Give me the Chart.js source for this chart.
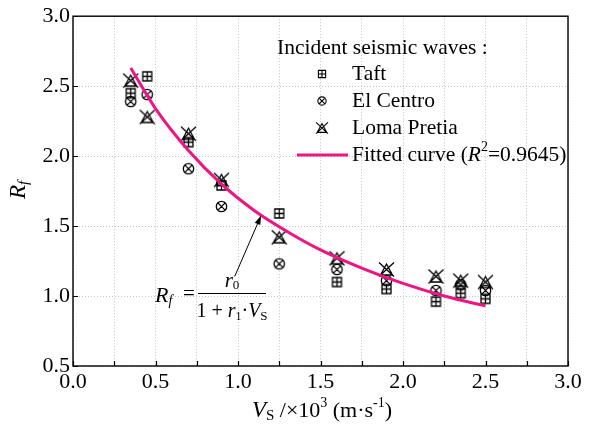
<!DOCTYPE html>
<html>
<head>
<meta charset="utf-8">
<script src="https://cdn.jsdelivr.net/npm/chart.js@4.4.1/dist/chart.umd.min.js"></script>
<style>
  body { margin: 0; background: #fff; }
  #wrap { width: 611px; height: 429px; }
</style>
</head>
<body>
<div id="wrap"><canvas id="chart"></canvas></div>
<script>
// data
const vs = [0.35, 0.45, 0.7, 0.9, 1.25, 1.6, 1.9, 2.2, 2.35, 2.5];
const taft = [2.45, 2.57, 2.10, 1.79, 1.59, 1.10, 1.05, 0.96, 1.02, 0.98];
const elCentro = [2.39, 2.44, 1.91, 1.64, 1.23, 1.19, 1.11, 1.04, 1.08, 1.04];
const lomaPretia = [2.54, 2.28, 2.16, 1.83, 1.42, 1.27, 1.19, 1.14, 1.11, 1.10];

// fitted curve, read at a few points
const fitV = [0.35, 0.5, 0.7, 0.9, 1.1, 1.3, 1.5, 1.75, 2.0, 2.25, 2.5];
const fitR = [2.63, 2.34, 2.04, 1.80, 1.61, 1.46, 1.33, 1.20, 1.09, 1.00, 0.93];

const xTicks = [0.0, 0.5, 1.0, 1.5, 2.0, 2.5, 3.0];
const yTicks = [0.5, 1.0, 1.5, 2.0, 2.5, 3.0];
const seriesNames = ['Taft', 'El Centro', 'Loma Pretia'];

const FONT = '"Liberation Serif", "Times New Roman", serif';
const PINK = '#ee1583';

function drawMarker(ctx, kind, x, y, s, lw) {
  ctx.save();
  ctx.translate(x, y);
  ctx.scale(s, s);
  ctx.strokeStyle = '#000';
  ctx.lineWidth = lw / s;
  ctx.beginPath();
  if (kind === 0) {
    ctx.rect(-4.5, -4.5, 9, 9);
    ctx.moveTo(0, -4.5); ctx.lineTo(0, 4.5);
    ctx.moveTo(-4.5, 0); ctx.lineTo(4.5, 0);
  } else if (kind === 1) {
    ctx.arc(0, 0, 5.2, 0, Math.PI * 2);
    ctx.moveTo(-3.6, -3.6); ctx.lineTo(3.6, 3.6);
    ctx.moveTo(3.6, -3.6); ctx.lineTo(-3.6, 3.6);
  } else {
    ctx.moveTo(0, -5.5); ctx.lineTo(-6, 5.5); ctx.lineTo(6, 5.5); ctx.closePath();
    ctx.moveTo(-7.5, -7); ctx.lineTo(7.5, 7);
    ctx.moveTo(7.5, -7); ctx.lineTo(-7.5, 7);
  }
  ctx.stroke();
  ctx.restore();
}

function makeMarker(kind) {
  const c = document.createElement('canvas');
  c.width = 21; c.height = 21;
  drawMarker(c.getContext('2d'), kind, 10.5, 10.5, 1, 1.3);
  return c;
}

// text runs with sub/superscripts
function runsWidth(ctx, runs) {
  let w = 0;
  for (const r of runs) {
    ctx.font = (r.italic ? 'italic ' : '') + r.size + 'px ' + FONT;
    w += ctx.measureText(r.t).width;
  }
  return w;
}
function drawRuns(ctx, x, y, runs, align) {
  let w = runsWidth(ctx, runs);
  let cx = align === 'center' ? x - w / 2 : x;
  ctx.textBaseline = 'middle';
  ctx.textAlign = 'left';
  ctx.fillStyle = '#000';
  for (const r of runs) {
    ctx.font = (r.italic ? 'italic ' : '') + r.size + 'px ' + FONT;
    ctx.fillText(r.t, cx, y + (r.dy || 0));
    cx += ctx.measureText(r.t).width;
  }
}

const extras = {
  id: 'extras',
  afterDraw(chart) {
    const ctx = chart.ctx;
    const a = chart.chartArea;
    const xs = chart.scales.x, ys = chart.scales.y;
    ctx.save();
    // frame
    ctx.strokeStyle = '#000';
    ctx.lineWidth = 1.4;
    ctx.strokeRect(a.left, a.top, a.right - a.left, a.bottom - a.top);
    // inward ticks
    ctx.lineWidth = 1.2;
    ctx.beginPath();
    for (let v = 0; v <= 3.0001; v += 0.25) {
      const px = Math.round(xs.getPixelForValue(v)) + 0.5;
      ctx.moveTo(px, a.bottom); ctx.lineTo(px, a.bottom - 5);
    }
    for (const v of yTicks) {
      const py = Math.round(ys.getPixelForValue(v)) + 0.5;
      ctx.moveTo(a.left, py); ctx.lineTo(a.left + 5, py);
    }
    ctx.stroke();

    // axis titles
    drawRuns(ctx, 322, 411, [
      { t: 'V', italic: true, size: 23 },
      { t: 'S', size: 15, dy: 5 },
      { t: ' /\u00d710', size: 22 },
      { t: '3', size: 14, dy: -8 },
      { t: ' (m\u00b7s', size: 22 },
      { t: '-1', size: 14, dy: -8 },
      { t: ')', size: 22 }
    ], 'center');

    ctx.save();
    ctx.translate(19, 190);
    ctx.rotate(-Math.PI / 2);
    drawRuns(ctx, 0, 0, [
      { t: 'R', italic: true, size: 23 },
      { t: 'f', italic: true, size: 15, dy: 5 }
    ], 'center');
    ctx.restore();

    // legend
    drawRuns(ctx, 277, 48, [{ t: 'Incident seismic waves :', size: 21.5 }], 'left');
    const rowY = [74, 101, 128, 155];
    for (let i = 0; i < 3; i++) {
      drawMarker(ctx, i, 322, rowY[i], 0.8, 1.1);
      drawRuns(ctx, 352, rowY[i], [{ t: seriesNames[i], size: 21.5 }], 'left');
    }
    ctx.strokeStyle = PINK;
    ctx.lineWidth = 3;
    ctx.beginPath();
    ctx.moveTo(297, rowY[3]); ctx.lineTo(348, rowY[3]);
    ctx.stroke();
    drawRuns(ctx, 352, rowY[3], [
      { t: 'Fitted curve (', size: 21.5 },
      { t: 'R', italic: true, size: 21.5 },
      { t: '2', size: 14, dy: -8 },
      { t: '=0.9645)', size: 21.5 }
    ], 'left');

    // formula
    drawRuns(ctx, 155, 296, [
      { t: 'R', italic: true, size: 22 },
      { t: 'f', italic: true, size: 14, dy: 5 }
    ], 'left');
    drawRuns(ctx, 189, 294, [{ t: '=', size: 21 }], 'center');
    ctx.strokeStyle = '#000';
    ctx.lineWidth = 1.2;
    ctx.beginPath();
    ctx.moveTo(198, 293.5); ctx.lineTo(266, 293.5);
    ctx.stroke();
    drawRuns(ctx, 232, 281, [
      { t: 'r', italic: true, size: 21 },
      { t: '0', size: 13, dy: 5 }
    ], 'center');
    drawRuns(ctx, 232, 312, [
      { t: '1 + ', size: 20 },
      { t: 'r', italic: true, size: 20 },
      { t: '1', size: 12, dy: 5 },
      { t: '\u00b7', size: 20 },
      { t: 'V', italic: true, size: 20 },
      { t: 'S', size: 13, dy: 5 }
    ], 'center');

    // arrow to the curve
    const x0 = xs.getPixelForValue(0.98), y0 = ys.getPixelForValue(1.14);
    const x1 = xs.getPixelForValue(1.14), y1 = ys.getPixelForValue(1.575);
    const ang = Math.atan2(y1 - y0, x1 - x0);
    ctx.strokeStyle = '#000';
    ctx.lineWidth = 1;
    ctx.beginPath();
    ctx.moveTo(x0, y0);
    ctx.lineTo(x1 - 6 * Math.cos(ang), y1 - 6 * Math.sin(ang));
    ctx.stroke();
    ctx.fillStyle = '#000';
    ctx.beginPath();
    ctx.moveTo(x1, y1);
    ctx.lineTo(x1 - 9 * Math.cos(ang) + 3 * Math.sin(ang), y1 - 9 * Math.sin(ang) - 3 * Math.cos(ang));
    ctx.lineTo(x1 - 9 * Math.cos(ang) - 3 * Math.sin(ang), y1 - 9 * Math.sin(ang) + 3 * Math.cos(ang));
    ctx.closePath();
    ctx.fill();
    ctx.restore();
  }
};

function points(xv, yv) {
  return xv.map((v, i) => ({ x: v, y: yv[i] }));
}

const markers = [makeMarker(0), makeMarker(1), makeMarker(2)];

new Chart(document.getElementById('chart'), {
  type: 'scatter',
  data: {
    datasets: [
      {
        type: 'line',
        label: 'Fitted curve',
        data: points(fitV, fitR),
        borderColor: PINK,
        borderWidth: 3,
        pointRadius: 0,
        cubicInterpolationMode: 'monotone',
        fill: false,
        order: 0
      },
      { label: seriesNames[0], data: points(vs, taft), pointStyle: markers[0], order: 1 },
      { label: seriesNames[1], data: points(vs, elCentro), pointStyle: markers[1], order: 1 },
      { label: seriesNames[2], data: points(vs, lomaPretia), pointStyle: markers[2], order: 1 }
    ]
  },
  options: {
    responsive: true,
    maintainAspectRatio: false,
    animation: false,
    events: [],
    layout: { padding: { top: 16, right: 43, left: 0, bottom: 0 } },
    plugins: { legend: { display: false }, tooltip: { enabled: false } },
    scales: {
      x: {
        type: 'linear',
        min: 0, max: 3.0,
        afterFit(s) { s.height = 63; },
        afterBuildTicks(s) {
          const t = [];
          for (let i = 0; i <= 12; i++) t.push({ value: i * 0.25 });
          s.ticks = t;
        },
        ticks: {
          autoSkip: false,
          maxRotation: 0,
          padding: 3,
          color: '#000',
          font: { family: FONT, size: 22 },
          callback: (v) => xTicks.some(t => Math.abs(t - v) < 1e-6) ? v.toFixed(1) : ''
        },
        grid: { color: '#c4c4c4', lineWidth: 1, drawTicks: false },
        border: { display: false, dash: [1, 2] }
      },
      y: {
        type: 'linear',
        min: 0.5, max: 3.0,
        afterFit(s) { s.width = 73; },
        afterBuildTicks(s) { s.ticks = yTicks.map(v => ({ value: v })); },
        ticks: {
          padding: 3,
          color: '#000',
          font: { family: FONT, size: 22 },
          callback: (v) => v.toFixed(1)
        },
        grid: { color: '#c4c4c4', lineWidth: 1, drawTicks: false },
        border: { display: false, dash: [1, 2] }
      }
    }
  },
  plugins: [extras]
});
</script>
</body>
</html>
